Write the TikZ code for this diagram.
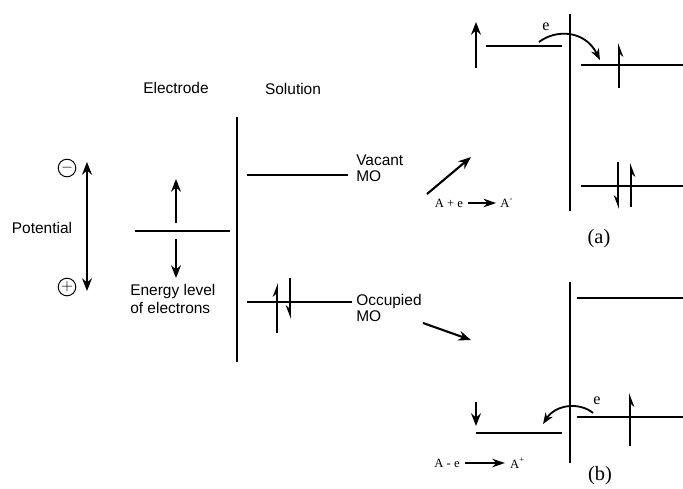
\documentclass[tikz,border=0pt]{standalone}
\usepackage{fontspec}
\setmainfont{Liberation Sans}
\newfontfamily\tms{Liberation Serif}
\usetikzlibrary{arrows.meta,positioning}

\begin{document}
\begin{tikzpicture}[x=0.025cm, y=0.025cm,
  level/.style={line width=1.7pt},
  wall/.style={line width=1.8pt},
  spinup/.style={line width=1.5pt, -{Stealth[harpoon, length=8pt, width=6pt]}},
  spindown/.style={line width=1.5pt, -{Stealth[harpoon, swap, length=8pt, width=6pt]}},
  mover/.style={line width=1.5pt, -{Stealth[length=9pt, width=7pt]}},
  transfer/.style={line width=1.3pt, -{Stealth[length=8pt, width=6pt]}},
  react/.style={line width=1.6pt, -{Stealth[length=9pt, width=6pt]}},
  sign/.style={circle, draw, line width=0.7pt, minimum size=0.44cm, inner sep=0pt, font=\fontsize{11}{11}\selectfont},
  lbl/.style={font=\fontsize{11}{11.5}\selectfont, inner sep=0pt, align=left},
  rxn/.style={font=\tms\fontsize{9}{10}\selectfont, inner sep=0pt},
  tag/.style={font=\tms\fontsize{14.5}{16}\selectfont, inner sep=0pt}
]
  \useasboundingbox (0,0) rectangle (683,-488);

  % Left panel: electrode and solution
  \node[lbl] (electrode) at (176,-88) {Electrode};
  \node[lbl] (solution) at (293,-89) {Solution};
  \node[lbl] (potential) at (42,-228) {Potential};
  \node[sign] (minus) at (67,-168) {$-$};
  \node[sign] (plus) at (67,-287) {$+$};
  \coordinate (pottop) at (87,-162);
  \coordinate (potbot) at (87,-291);
  \draw[mover, {Stealth[length=9pt, width=7pt]}-{Stealth[length=9pt, width=7pt]}] (potbot) -- (pottop);

  \coordinate (wtop) at (237,-117);
  \coordinate (wbot) at (237,-362);
  \draw[wall] (wtop) -- (wbot);

  \coordinate (eL) at (135,-231);
  \coordinate (eR) at (230,-231);
  \draw[level] (eL) -- (eR);
  \coordinate (upfoot) at (176,-223);
  \coordinate (uptip) at (176,-179);
  \coordinate (dnfoot) at (176,-239);
  \coordinate (dntip) at (176,-278);
  \draw[mover] (upfoot) -- (uptip);
  \draw[mover] (dnfoot) -- (dntip);
  \node[lbl, anchor=west, font=\fontsize{11}{13}\selectfont] (energy) at (130,-299) {Energy level\\of electrons};

  \coordinate (vL) at (247,-175);
  \coordinate (vR) at (348,-175);
  \draw[level] (vL) -- (vR);
  \node[lbl, anchor=west] (vacant) at (356,-168) {Vacant\\MO};

  \coordinate (oL) at (247,-302);
  \coordinate (oR) at (352,-302);
  \draw[level] (oL) -- (oR);
  \node[lbl, anchor=west] (occupied) at (356,-308) {Occupied\\MO};
  \coordinate (s1a) at (277,-333);
  \coordinate (s1b) at (277,-283);
  \coordinate (s2a) at (290,-278);
  \coordinate (s2b) at (290,-319);
  \draw[spinup] (s1a) -- (s1b);
  \draw[spindown] (s2a) -- (s2b);

  % Paths to (a) and (b)
  \coordinate (toA1) at (427,-194);
  \coordinate (toA2) at (471,-157);
  \draw[mover] (toA1) -- (toA2);
  \coordinate (toB1) at (423,-323);
  \coordinate (toB2) at (471,-340);
  \draw[mover] (toB1) -- (toB2);

  % (a) reduction
  \coordinate (awtop) at (570,-14);
  \coordinate (awbot) at (570,-211);
  \draw[wall] (awtop) -- (awbot);
  \coordinate (aeL) at (486,-46);
  \coordinate (aeR) at (562,-46);
  \draw[level] (aeL) -- (aeR);
  \coordinate (aup1) at (476,-68);
  \coordinate (aup2) at (476,-22);
  \draw[mover] (aup1) -- (aup2);
  \coordinate (auL) at (581,-65);
  \coordinate (auR) at (683,-65);
  \draw[level] (auL) -- (auR);
  \coordinate (alL) at (581,-186);
  \coordinate (alR) at (683,-186);
  \draw[level] (alL) -- (alR);
  \coordinate (as1a) at (619,-88);
  \coordinate (as1b) at (619,-43);
  \draw[spindown] (as1a) -- (as1b);
  \coordinate (as2a) at (618,-162);
  \coordinate (as2b) at (618,-209);
  \coordinate (as3a) at (631,-207);
  \coordinate (as3b) at (631,-163);
  \draw[spindown] (as2a) -- (as2b);
  \draw[spindown] (as3a) -- (as3b);
  \coordinate (ac1) at (539,-42);
  \coordinate (ac2) at (600,-60);
  \draw[transfer] (ac1) .. controls (556,-29) and (585,-30) .. (ac2);
  \node[font=\tms\fontsize{11.5}{12}\selectfont, inner sep=0pt] (ae) at (546,-27) {e};
  \node[rxn] (aA) at (449,-203) {A + e};
  \node[rxn, right=0.92cm of aA] (aAm) {A\textsuperscript{-}};
  \path (aA.east) ++(5,0) coordinate (ar1) (aAm.west) ++(-4,0) coordinate (ar2);
  \draw[react] (ar1) -- (ar2);
  \node[tag] (taga) at (599,-239) {(a)};

  % (b) oxidation
  \coordinate (bwtop) at (570,-282);
  \coordinate (bwbot) at (570,-463);
  \draw[wall] (bwtop) -- (bwbot);
  \coordinate (buL) at (577,-298);
  \coordinate (buR) at (683,-298);
  \draw[level] (buL) -- (buR);
  \coordinate (beL) at (476,-433);
  \coordinate (beR) at (562,-433);
  \draw[level] (beL) -- (beR);
  \coordinate (bdn1) at (476,-402);
  \coordinate (bdn2) at (476,-426);
  \draw[mover] (bdn1) -- (bdn2);
  \coordinate (blL) at (577,-417);
  \coordinate (blR) at (683,-417);
  \draw[level] (blL) -- (blR);
  \coordinate (bs1a) at (630,-446);
  \coordinate (bs1b) at (630,-393);
  \draw[spindown] (bs1a) -- (bs1b);
  \coordinate (bc1) at (593,-413);
  \coordinate (bc2) at (543,-424);
  \draw[transfer] (bc1) .. controls (580,-402) and (556,-404) .. (bc2);
  \node[font=\tms\fontsize{11.5}{12}\selectfont, inner sep=0pt] (be) at (597,-401) {e};
  \node[rxn] (bA) at (447,-463) {A - e};
  \node[rxn, right=1.25cm of bA] (bAp) {A\textsuperscript{+}};
  \path (bA.east) ++(5,0) coordinate (br1) (bAp.west) ++(-5,0) coordinate (br2);
  \draw[react] (br1) -- (br2);
  \node[tag] (tagb) at (600,-476) {(b)};
\end{tikzpicture}
\end{document}
